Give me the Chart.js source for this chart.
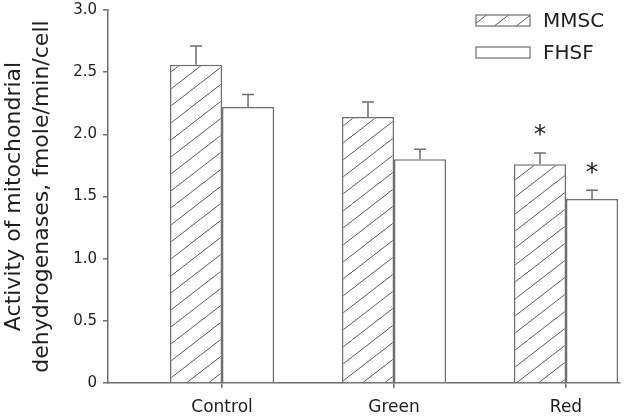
<!DOCTYPE html>
<html>
<head>
<meta charset="utf-8">
<script src="https://cdn.jsdelivr.net/npm/chart.js@4/dist/chart.umd.min.js"></script>
<style>
  html, body { margin: 0; padding: 0; background: #fff; }
  #wrap { width: 630px; height: 416px; }
</style>
</head>
<body>
<div id="wrap"><canvas id="chart" width="630" height="416"></canvas></div>
<script>
// ---------- DATOS ----------
const categorias = ['Control', 'Green', 'Red'];
const mmsc = [2.56, 2.14, 1.76];
const mmscErr = [0.15, 0.12, 0.09];
const fhsf = [2.22, 1.80, 1.48];
const fhsfErr = [0.10, 0.08, 0.07];
const mmscSig = [false, false, true];
const fhsfSig = [false, false, true];
const yTicks = [0, 0.5, 1.0, 1.5, 2.0, 2.5, 3.0];

const GRIS = '#6e6e6e';
const TEXTO = '#1e1e1e';
const FUENTE = 'DejaVu Sans';

// ---------- PATRON RAYADO ----------
function hatchPattern() {
    const w = 22, h = 17;
    const c = document.createElement('canvas');
    c.width = w; c.height = h;
    const g = c.getContext('2d');
    g.fillStyle = '#fff';
    g.fillRect(0, 0, w, h);
    g.strokeStyle = '#5a5a5a';
    g.lineWidth = 1;
    for (let k = -1; k <= 1; k++) {
        g.beginPath();
        g.moveTo(k * w, h);
        g.lineTo(k * w + w, 0);
        g.stroke();
    }
    const ctx = document.getElementById('chart').getContext('2d');
    return ctx.createPattern(c, 'repeat');
}
const rayado = hatchPattern();

// ---------- BARRAS DE ERROR Y ASTERISCOS ----------
const errorBars = {
    id: 'errorBars',
    afterDatasetsDraw(chart) {
        const ctx = chart.ctx;
        const y = chart.scales.y;
        const errs = [mmscErr, fhsfErr];
        const sigs = [mmscSig, fhsfSig];
        chart.data.datasets.forEach((ds, di) => {
            const meta = chart.getDatasetMeta(di);
            meta.data.forEach((bar, i) => {
                const v = ds.data[i].y;
                const top = y.getPixelForValue(v + errs[di][i]);
                ctx.save();
                ctx.strokeStyle = GRIS;
                ctx.lineWidth = 1.5;
                ctx.beginPath();
                ctx.moveTo(bar.x, bar.y);
                ctx.lineTo(bar.x, top);
                ctx.moveTo(bar.x - 6, top);
                ctx.lineTo(bar.x + 6, top);
                ctx.stroke();
                if (sigs[di][i]) {
                    ctx.fillStyle = TEXTO;
                    ctx.font = '25px ' + FUENTE;
                    ctx.textAlign = 'center';
                    ctx.textBaseline = 'middle';
                    ctx.fillText('*', bar.x, top - 17);
                }
                ctx.restore();
            });
        });
    }
};

// ---------- LEYENDA ----------
const leyenda = {
    id: 'leyenda',
    afterDraw(chart) {
        const ctx = chart.ctx;
        chart.data.datasets.forEach((ds, i) => {
            const bx = 476, by = 15 + i * 32, bw = 54, bh = 11;
            ctx.save();
            ctx.fillStyle = ds.backgroundColor;
            ctx.fillRect(bx, by, bw, bh);
            ctx.strokeStyle = GRIS;
            ctx.lineWidth = 1.2;
            ctx.strokeRect(bx, by, bw, bh);
            ctx.fillStyle = TEXTO;
            ctx.font = '20px ' + FUENTE;
            ctx.textBaseline = 'middle';
            ctx.fillText(ds.label, 543, by + bh / 2 + 1);
            ctx.restore();
        });
    }
};

// ---------- GRAFICA ----------
const ctx = document.getElementById('chart');
new Chart(ctx, {
    type: 'bar',
    data: {
        datasets: [{
            label: 'MMSC',
            data: mmsc.map((v, i) => ({ x: i, y: v })),
            backgroundColor: rayado,
            borderColor: GRIS,
            borderWidth: 1.5
        }, {
            label: 'FHSF',
            data: fhsf.map((v, i) => ({ x: i, y: v })),
            backgroundColor: '#ffffff',
            borderColor: GRIS,
            borderWidth: 1.5
        }]
    },
    options: {
        responsive: false,
        animation: false,
        events: [],
        layout: { padding: { top: 10, right: 10, left: 0, bottom: 0 } },
        datasets: { bar: { categoryPercentage: 0.605, barPercentage: 1 } },
        plugins: {
            legend: { display: false },
            tooltip: { enabled: false }
        },
        scales: {
            x: {
                type: 'linear',
                offset: false,
                min: -0.663,
                max: 2.314,
                afterBuildTicks: s => { s.ticks = categorias.map((c, i) => ({ value: i })); },
                afterFit: s => { s.height = 33; },
                grid: { offset: false, drawOnChartArea: false, drawTicks: true, tickLength: 5, color: GRIS, lineWidth: 1.5 },
                border: { color: GRIS, width: 1.5 },
                ticks: {
                    callback: v => categorias[v],
                    color: TEXTO,
                    font: { family: FUENTE, size: 17 },
                    padding: 9,
                    maxRotation: 0
                }
            },
            y: {
                min: 0,
                max: 3,
                afterBuildTicks: s => { s.ticks = yTicks.map(v => ({ value: v })); },
                afterFit: s => { s.width = 108; s.paddingTop = 0; s.paddingBottom = 0; },
                grid: { drawOnChartArea: false, drawTicks: true, tickLength: 5, color: GRIS, lineWidth: 1.5 },
                border: { color: GRIS, width: 1.5 },
                ticks: {
                    callback: v => v === 0 ? '0' : v.toFixed(1),
                    color: TEXTO,
                    font: { family: FUENTE, size: 15 },
                    padding: 6
                },
                title: {
                    display: true,
                    text: ['Activity of mitochondrial', 'dehydrogenases, fmole/min/cell'],
                    color: TEXTO,
                    font: { family: FUENTE, size: 22, lineHeight: 1.28 },
                    padding: 0
                }
            }
        }
    },
    plugins: [errorBars, leyenda]
});
</script>
</body>
</html>
